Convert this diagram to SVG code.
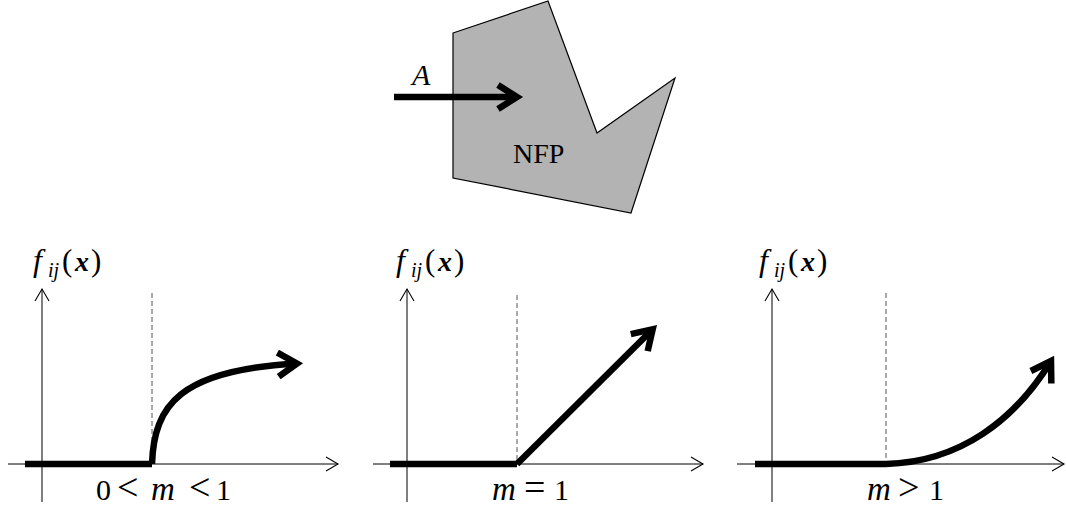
<svg xmlns="http://www.w3.org/2000/svg" width="1066" height="509" viewBox="0 0 1066 509">
<style>
  .bg{fill:#fff}
  .poly{fill:#b3b3b3;stroke:#000;stroke-width:1.2;stroke-linejoin:miter}
  .axis{fill:none;stroke:#000;stroke-width:1}
  .dash{fill:none;stroke:#555;stroke-width:1;stroke-dasharray:5 3}
  .thick{fill:none;stroke:#000;stroke-width:6.5;stroke-linecap:butt}
  text{font-family:"Liberation Serif","Times New Roman",serif;fill:#000}
  .n{font-size:28px}
  .d{font-size:30px}
  .f{font-size:32px;font-style:italic}
  .s{font-size:20px;font-style:italic}
  .p{font-size:31px}
  .x{font-size:28px;font-style:italic;font-weight:bold}
  .m{font-size:33px;font-style:italic}
  .r{font-size:38px}
</style>
<defs>
  <marker id="thin" markerUnits="userSpaceOnUse" viewBox="-15 -10 20 20" markerWidth="20" markerHeight="20" refX="0" refY="0" orient="auto" overflow="visible">
    <path d="M-12,-7 L0,0 L-12,7" fill="none" stroke="#000" stroke-width="1.1"/>
  </marker>
  <marker id="thick" markerUnits="userSpaceOnUse" viewBox="-25 -15 35 30" markerWidth="35" markerHeight="30" refX="0" refY="0" orient="auto" overflow="visible">
    <path d="M-19,-12 L0,0 L-19,12" fill="none" stroke="#000" stroke-width="6.5" stroke-linejoin="miter" stroke-miterlimit="10"/>
  </marker>
</defs>
<rect class="bg" x="0" y="0" width="1066" height="509"/>

<g id="nfp">
  <polygon class="poly" points="453,33 548,1 597,133 675,78 631,213 453,178"/>
  <text class="n" x="513" y="163">NFP</text>
</g>
<g id="arrowA">
  <line class="thick" x1="394" y1="97" x2="517" y2="97" marker-end="url(#thick)"/>
  <text class="f" x="412" y="85" style="font-size:30px">A</text>
</g>

<g id="panel1">
  <line class="axis" x1="42" y1="502" x2="42" y2="289" marker-end="url(#thin)"/>
  <line class="axis" x1="8" y1="464" x2="338" y2="464" marker-end="url(#thin)"/>
  <line class="dash" x1="152" y1="293" x2="152" y2="464"/>
  <line class="thick" x1="25" y1="464" x2="152" y2="464"/>
  <path class="thick" d="M152,464 C154,405 180,370 297,363.5" marker-end="url(#thick)"/>
  <text class="f" x="33" y="271">f</text><text class="s" x="48" y="277">ij</text><text class="p" x="62" y="271">(</text><text class="x" x="75" y="271">x</text><text class="p" x="91" y="271">)</text>
  <text class="d" x="96" y="500">0</text><text class="r" x="117" y="500">&lt;</text><text class="m" x="151" y="500">m</text><text class="r" x="189" y="500">&lt;</text><text class="d" x="216" y="500">1</text>
</g>

<g id="panel2">
  <line class="axis" x1="407" y1="502" x2="407" y2="289" marker-end="url(#thin)"/>
  <line class="axis" x1="373" y1="464" x2="703" y2="464" marker-end="url(#thin)"/>
  <line class="dash" x1="517" y1="295" x2="517" y2="464"/>
  <line class="thick" x1="390" y1="464" x2="517" y2="464"/>
  <line class="thick" x1="517" y1="464" x2="652.7" y2="329.2" marker-end="url(#thick)"/>
  <text class="f" x="396" y="271">f</text><text class="s" x="411" y="277">ij</text><text class="p" x="425" y="271">(</text><text class="x" x="438" y="271">x</text><text class="p" x="454" y="271">)</text>
  <text class="m" x="492" y="500">m</text><text class="r" x="524" y="500">=</text><text class="d" x="554" y="500">1</text>
</g>

<g id="panel3">
  <line class="axis" x1="772" y1="502" x2="772" y2="289" marker-end="url(#thin)"/>
  <line class="axis" x1="737" y1="464" x2="1064" y2="464" marker-end="url(#thin)"/>
  <line class="dash" x1="886" y1="293" x2="886" y2="464"/>
  <line class="thick" x1="755" y1="464" x2="886" y2="464"/>
  <path class="thick" d="M886,464 C960,462 1015,420 1051,361" marker-end="url(#thick)"/>
  <text class="f" x="759" y="271">f</text><text class="s" x="774" y="277">ij</text><text class="p" x="788" y="271">(</text><text class="x" x="801" y="271">x</text><text class="p" x="817" y="271">)</text>
  <text class="m" x="867" y="500">m</text><text class="r" x="898" y="500">&gt;</text><text class="d" x="929" y="500">1</text>
</g>
</svg>
